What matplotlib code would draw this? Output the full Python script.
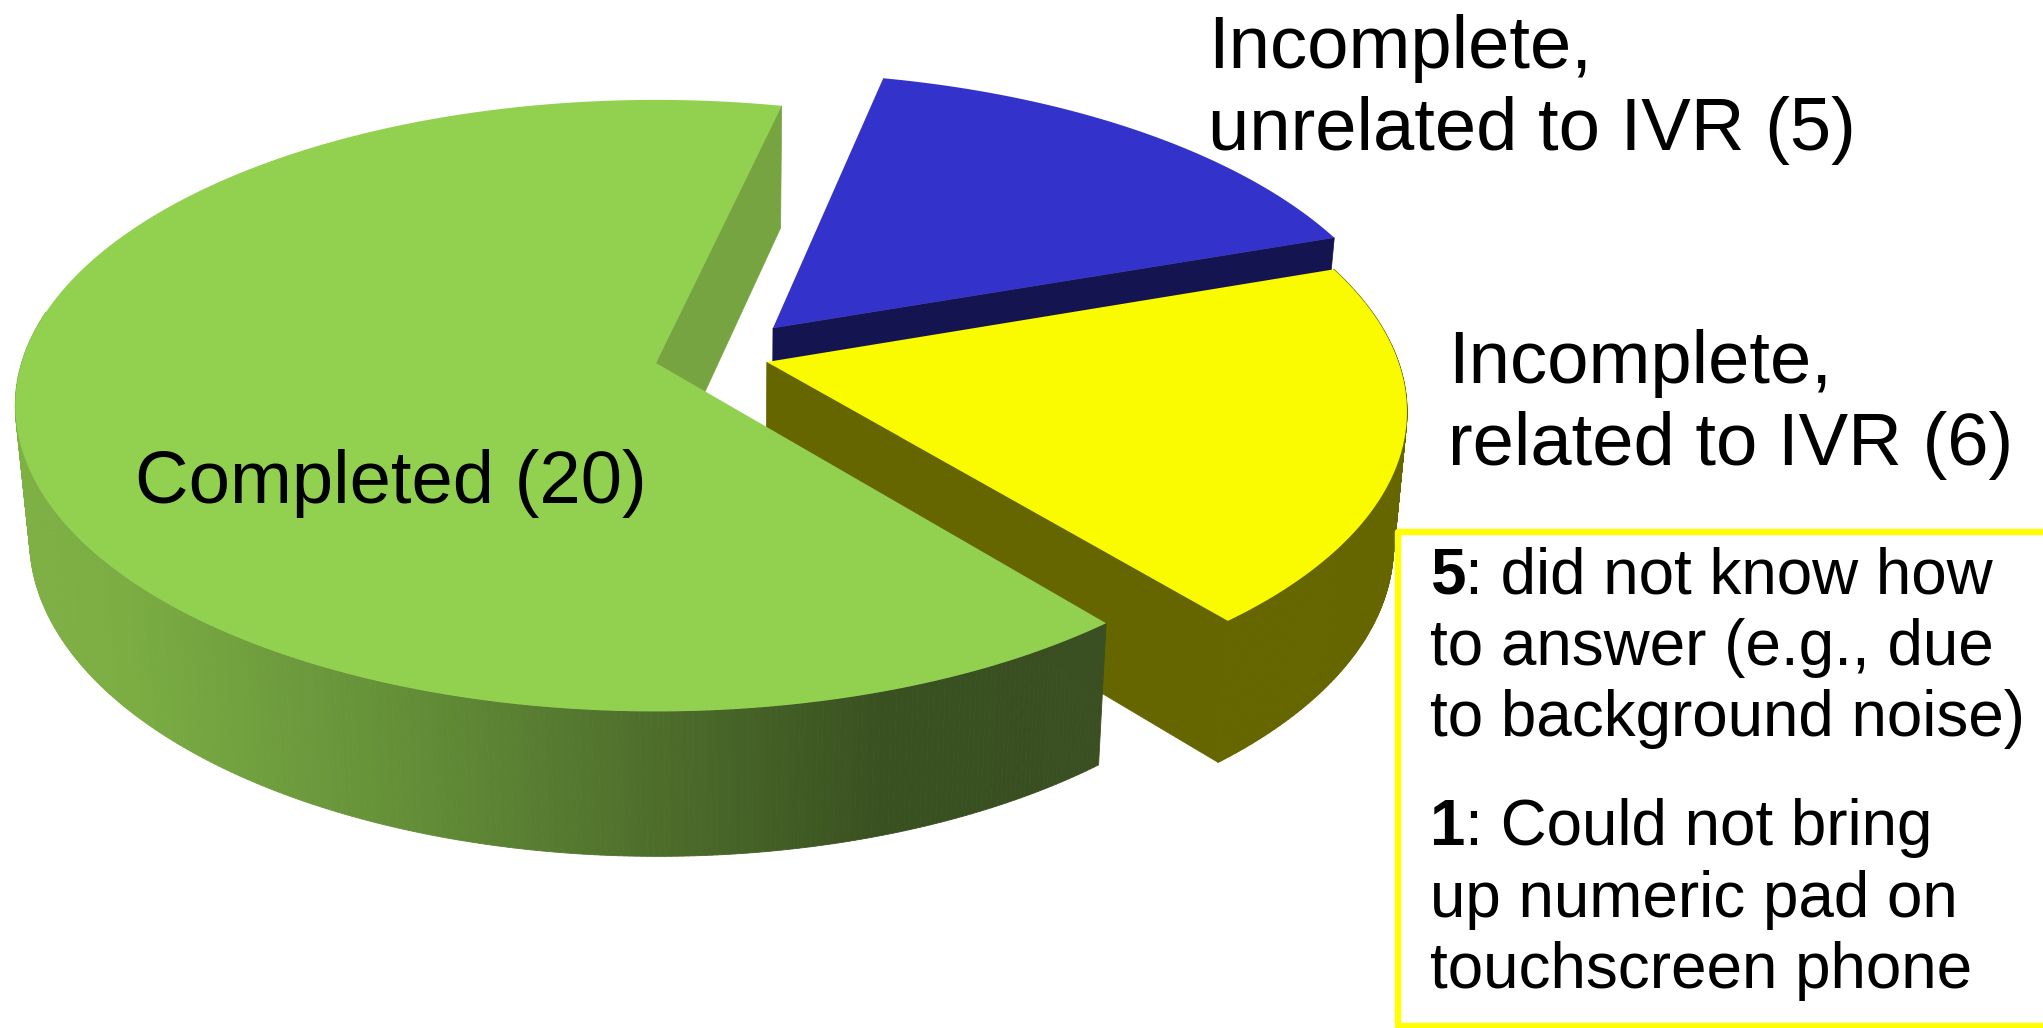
import numpy as np
import matplotlib
matplotlib.use("Agg")
import matplotlib.pyplot as plt
from matplotlib.collections import PolyCollection
from matplotlib.colors import LinearSegmentedColormap, Normalize
from matplotlib.patches import Rectangle

# data
categories = ["Completed", "Incomplete, related to IVR", "Incomplete, unrelated to IVR"]
counts = [20, 6, 5]
reason_counts = [5, 1]
label_completed = "Completed (20)"
label_related = ["Incomplete,", "related to IVR (6)"]
label_unrelated = ["Incomplete,", "unrelated to IVR (5)"]
reason_lines = [
    [": did not know how", "to answer (e.g., due", "to background noise)"],
    [": Could not bring", "up numeric pad on", "touchscreen phone"],
]

# style and layout
W, H = 2043, 1028
FONT = "Liberation Sans"
TOP = {"g": "#92d050", "y": "#fbfb00", "b": "#3333cc"}
SIDE = {"g": "#75a441", "y": "#666600", "b": "#141450"}
X0, Y0, A, B, K = 656, 363, 637, 301, 0.14
START_ANGLE = 77.0
OFFSET = {"g": (0, 0), "y": (0.174, 0.0033), "b": (0.1867, 0.118)}
RADIUS = {"g": 0.996, "y": 0.992, "b": 0.998}


def top_xy(u, v):
    w = 1 + K * v
    return X0 + A * u / w, Y0 - B * v / w


def bottom_xy(x, y):
    return 730 + 0.98 * (x - 730), y + 122 + 0.0379 * (y - 105)


def arc(key, a1, a2, n=240):
    t = np.radians(np.linspace(a1, a2, n))
    ou, ov = OFFSET[key]
    r = RADIUS[key]
    return top_xy(ou + r * np.cos(t), ov + r * np.sin(t))


def wall_quads(x, y):
    xb, yb = bottom_xy(x, y)
    return [[(x[i], y[i]), (x[i + 1], y[i + 1]), (xb[i + 1], yb[i + 1]), (xb[i], yb[i])]
            for i in range(len(x) - 1)]


fig = plt.figure(figsize=(W / 100, H / 100), dpi=100)
ax = fig.add_axes([0, 0, 1, 1])
ax.set_xlim(0, W)
ax.set_ylim(H, 0)
ax.axis("off")

sweep = np.array(counts) / sum(counts) * 360
g1 = START_ANGLE
g2 = g1 + sweep[0]
y1 = g2
y2 = y1 + sweep[1]
b1 = y2 - 360
b2 = b1 + sweep[2]

cg = top_xy(*OFFSET["g"])
cy = top_xy(*OFFSET["y"])
cb = top_xy(*OFFSET["b"])


def face(p, q, color, z):
    """Vertical cut face between two top-surface points."""
    pb = bottom_xy(*p)
    qb = bottom_xy(*q)
    ax.fill([p[0], q[0], qb[0], pb[0]], [p[1], q[1], qb[1], pb[1]],
            color=color, lw=0.5, zorder=z)


# blue slice (back)
bx, by = arc("b", b1, b2)
face(cb, (bx[0], by[0]), SIDE["b"], 1)
ax.fill(np.r_[cb[0], bx], np.r_[cb[1], by], color=TOP["b"], lw=0, zorder=2)

# green cut face
gx0, gy0 = arc("g", g1, g1, 2)
face(cg, (gx0[0], gy0[0]), SIDE["g"], 3)

# yellow slice
yx, yy = arc("y", y1, y2)
face(cy, (yx[0], yy[0]), SIDE["y"], 4)
ax.add_collection(PolyCollection(wall_quads(yx, yy), facecolors=SIDE["y"],
                                 edgecolors=SIDE["y"], linewidths=0.8, zorder=4))
ax.fill(np.r_[cy[0], yx], np.r_[cy[1], yy], color=TOP["y"], lw=0, zorder=5)

# green outer wall with horizontal shading: only the front part is visible
stops = [(20, "#7fb045"), (120, "#7bad43"), (400, "#648f38"), (886, "#395020"), (1110, "#3a4f22")]
lo, hi = stops[0][0], stops[-1][0]
cmap = LinearSegmentedColormap.from_list(
    "wall", [((x - lo) / (hi - lo), c) for x, c in stops])
norm = Normalize(lo, hi)
gx, gy = arc("g", g1, g2, 400)
wx, wy = arc("g", 170, g2, 300)
colors = cmap(norm((wx[:-1] + wx[1:]) / 2))
ax.add_collection(PolyCollection(wall_quads(wx, wy), facecolors=colors, edgecolors=colors,
                                 linewidths=0.6, zorder=6))
ax.fill(np.r_[cg[0], gx], np.r_[cg[1], gy], color=TOP["g"], lw=0, zorder=7)

# labels
big = dict(family=FONT, fontsize=53.5, color="black", va="baseline", ha="left", zorder=10)
ax.text(135, 503, label_completed, **big)
ax.text(1208, 68, label_unrelated[0], **big)
ax.text(1208, 150, label_unrelated[1], **big)
ax.text(1448, 383, label_related[0], **big)
ax.text(1448, 465, label_related[1], **big)

# annotation box (runs off the right edge)
ax.add_patch(Rectangle((1397.5, 532), W + 20 - 1397.5, 1026 - 532, facecolor="white",
                       edgecolor="#ffff00", lw=4.6, joinstyle="round", zorder=9))

small = dict(family=FONT, fontsize=45.9, color="black", va="baseline", ha="left", zorder=10)
digit_advance = 0.556 * 45.9 * 100 / 72
baselines = [[594, 665, 736], [845, 917, 988]]
for n, lines, ys in zip(reason_counts, reason_lines, baselines):
    ax.text(1430, ys[0], str(n), fontweight="bold", **small)
    ax.text(1430 + digit_advance, ys[0], lines[0], **small)
    ax.text(1430, ys[1], lines[1], **small)
    ax.text(1430, ys[2], lines[2], **small)

fig.savefig("out.png", dpi=100, facecolor="white")
